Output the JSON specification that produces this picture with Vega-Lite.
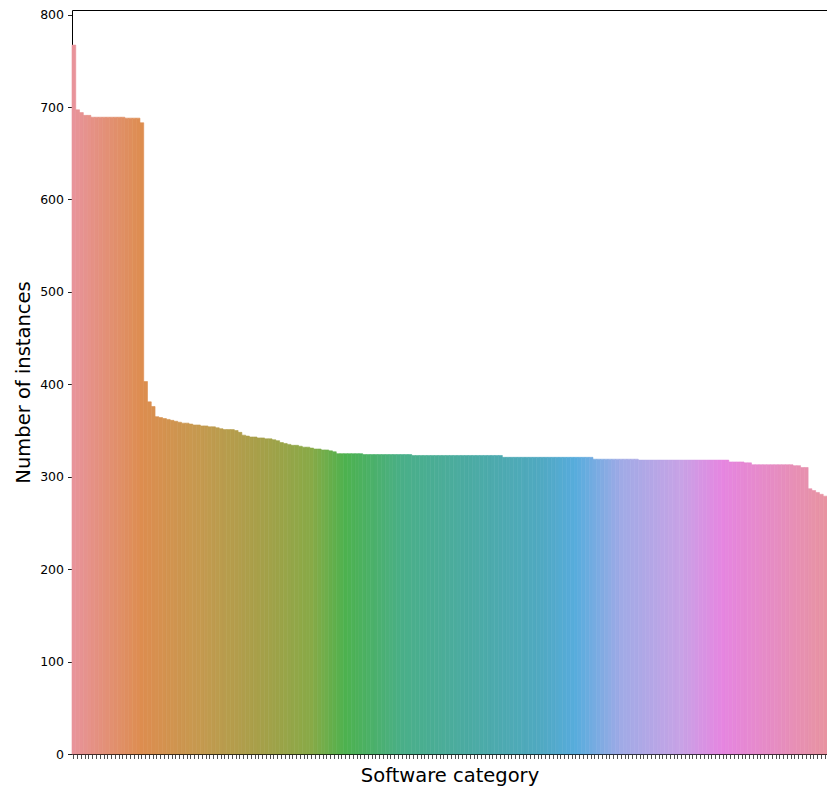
{
  "$schema": "https://vega.github.io/schema/vega-lite/v6.json",
  "width": 755,
  "height": 744,
  "autosize": {"type": "none"},
  "padding": {"left": 72, "top": 10, "right": 0, "bottom": 32},
  "background": "white",
  "config": {
    "view": {"stroke": null},
    "axis": {
      "grid": false,
      "domainColor": "#000000",
      "domainWidth": 1,
      "tickColor": "#222222",
      "labelColor": "#000000",
      "titleColor": "#000000",
      "labelFont": "DejaVu Sans",
      "titleFont": "DejaVu Sans",
      "titleFontWeight": "normal"
    }
  },
  "data": {"values": [
    {"category":"c000","index":0,"instances":767},
    {"category":"c001","index":1,"instances":697},
    {"category":"c002","index":2,"instances":694},
    {"category":"c003","index":3,"instances":691},
    {"category":"c004","index":4,"instances":691},
    {"category":"c005","index":5,"instances":689},
    {"category":"c006","index":6,"instances":689},
    {"category":"c007","index":7,"instances":689},
    {"category":"c008","index":8,"instances":689},
    {"category":"c009","index":9,"instances":689},
    {"category":"c010","index":10,"instances":689},
    {"category":"c011","index":11,"instances":689},
    {"category":"c012","index":12,"instances":689},
    {"category":"c013","index":13,"instances":689},
    {"category":"c014","index":14,"instances":688},
    {"category":"c015","index":15,"instances":688},
    {"category":"c016","index":16,"instances":688},
    {"category":"c017","index":17,"instances":688},
    {"category":"c018","index":18,"instances":683},
    {"category":"c019","index":19,"instances":403},
    {"category":"c020","index":20,"instances":381},
    {"category":"c021","index":21,"instances":376},
    {"category":"c022","index":22,"instances":365},
    {"category":"c023","index":23,"instances":364},
    {"category":"c024","index":24,"instances":363},
    {"category":"c025","index":25,"instances":362},
    {"category":"c026","index":26,"instances":361},
    {"category":"c027","index":27,"instances":360},
    {"category":"c028","index":28,"instances":359},
    {"category":"c029","index":29,"instances":358},
    {"category":"c030","index":30,"instances":358},
    {"category":"c031","index":31,"instances":357},
    {"category":"c032","index":32,"instances":356},
    {"category":"c033","index":33,"instances":356},
    {"category":"c034","index":34,"instances":355},
    {"category":"c035","index":35,"instances":355},
    {"category":"c036","index":36,"instances":354},
    {"category":"c037","index":37,"instances":354},
    {"category":"c038","index":38,"instances":353},
    {"category":"c039","index":39,"instances":352},
    {"category":"c040","index":40,"instances":351},
    {"category":"c041","index":41,"instances":351},
    {"category":"c042","index":42,"instances":351},
    {"category":"c043","index":43,"instances":350},
    {"category":"c044","index":44,"instances":348},
    {"category":"c045","index":45,"instances":345},
    {"category":"c046","index":46,"instances":344},
    {"category":"c047","index":47,"instances":343},
    {"category":"c048","index":48,"instances":343},
    {"category":"c049","index":49,"instances":342},
    {"category":"c050","index":50,"instances":342},
    {"category":"c051","index":51,"instances":341},
    {"category":"c052","index":52,"instances":341},
    {"category":"c053","index":53,"instances":340},
    {"category":"c054","index":54,"instances":339},
    {"category":"c055","index":55,"instances":337},
    {"category":"c056","index":56,"instances":336},
    {"category":"c057","index":57,"instances":335},
    {"category":"c058","index":58,"instances":334},
    {"category":"c059","index":59,"instances":334},
    {"category":"c060","index":60,"instances":333},
    {"category":"c061","index":61,"instances":332},
    {"category":"c062","index":62,"instances":332},
    {"category":"c063","index":63,"instances":331},
    {"category":"c064","index":64,"instances":330},
    {"category":"c065","index":65,"instances":330},
    {"category":"c066","index":66,"instances":329},
    {"category":"c067","index":67,"instances":329},
    {"category":"c068","index":68,"instances":328},
    {"category":"c069","index":69,"instances":327},
    {"category":"c070","index":70,"instances":325},
    {"category":"c071","index":71,"instances":325},
    {"category":"c072","index":72,"instances":325},
    {"category":"c073","index":73,"instances":325},
    {"category":"c074","index":74,"instances":325},
    {"category":"c075","index":75,"instances":325},
    {"category":"c076","index":76,"instances":325},
    {"category":"c077","index":77,"instances":324},
    {"category":"c078","index":78,"instances":324},
    {"category":"c079","index":79,"instances":324},
    {"category":"c080","index":80,"instances":324},
    {"category":"c081","index":81,"instances":324},
    {"category":"c082","index":82,"instances":324},
    {"category":"c083","index":83,"instances":324},
    {"category":"c084","index":84,"instances":324},
    {"category":"c085","index":85,"instances":324},
    {"category":"c086","index":86,"instances":324},
    {"category":"c087","index":87,"instances":324},
    {"category":"c088","index":88,"instances":324},
    {"category":"c089","index":89,"instances":324},
    {"category":"c090","index":90,"instances":323},
    {"category":"c091","index":91,"instances":323},
    {"category":"c092","index":92,"instances":323},
    {"category":"c093","index":93,"instances":323},
    {"category":"c094","index":94,"instances":323},
    {"category":"c095","index":95,"instances":323},
    {"category":"c096","index":96,"instances":323},
    {"category":"c097","index":97,"instances":323},
    {"category":"c098","index":98,"instances":323},
    {"category":"c099","index":99,"instances":323},
    {"category":"c100","index":100,"instances":323},
    {"category":"c101","index":101,"instances":323},
    {"category":"c102","index":102,"instances":323},
    {"category":"c103","index":103,"instances":323},
    {"category":"c104","index":104,"instances":323},
    {"category":"c105","index":105,"instances":323},
    {"category":"c106","index":106,"instances":323},
    {"category":"c107","index":107,"instances":323},
    {"category":"c108","index":108,"instances":323},
    {"category":"c109","index":109,"instances":323},
    {"category":"c110","index":110,"instances":323},
    {"category":"c111","index":111,"instances":323},
    {"category":"c112","index":112,"instances":323},
    {"category":"c113","index":113,"instances":323},
    {"category":"c114","index":114,"instances":321},
    {"category":"c115","index":115,"instances":321},
    {"category":"c116","index":116,"instances":321},
    {"category":"c117","index":117,"instances":321},
    {"category":"c118","index":118,"instances":321},
    {"category":"c119","index":119,"instances":321},
    {"category":"c120","index":120,"instances":321},
    {"category":"c121","index":121,"instances":321},
    {"category":"c122","index":122,"instances":321},
    {"category":"c123","index":123,"instances":321},
    {"category":"c124","index":124,"instances":321},
    {"category":"c125","index":125,"instances":321},
    {"category":"c126","index":126,"instances":321},
    {"category":"c127","index":127,"instances":321},
    {"category":"c128","index":128,"instances":321},
    {"category":"c129","index":129,"instances":321},
    {"category":"c130","index":130,"instances":321},
    {"category":"c131","index":131,"instances":321},
    {"category":"c132","index":132,"instances":321},
    {"category":"c133","index":133,"instances":321},
    {"category":"c134","index":134,"instances":321},
    {"category":"c135","index":135,"instances":321},
    {"category":"c136","index":136,"instances":321},
    {"category":"c137","index":137,"instances":321},
    {"category":"c138","index":138,"instances":319},
    {"category":"c139","index":139,"instances":319},
    {"category":"c140","index":140,"instances":319},
    {"category":"c141","index":141,"instances":319},
    {"category":"c142","index":142,"instances":319},
    {"category":"c143","index":143,"instances":319},
    {"category":"c144","index":144,"instances":319},
    {"category":"c145","index":145,"instances":319},
    {"category":"c146","index":146,"instances":319},
    {"category":"c147","index":147,"instances":319},
    {"category":"c148","index":148,"instances":319},
    {"category":"c149","index":149,"instances":319},
    {"category":"c150","index":150,"instances":318},
    {"category":"c151","index":151,"instances":318},
    {"category":"c152","index":152,"instances":318},
    {"category":"c153","index":153,"instances":318},
    {"category":"c154","index":154,"instances":318},
    {"category":"c155","index":155,"instances":318},
    {"category":"c156","index":156,"instances":318},
    {"category":"c157","index":157,"instances":318},
    {"category":"c158","index":158,"instances":318},
    {"category":"c159","index":159,"instances":318},
    {"category":"c160","index":160,"instances":318},
    {"category":"c161","index":161,"instances":318},
    {"category":"c162","index":162,"instances":318},
    {"category":"c163","index":163,"instances":318},
    {"category":"c164","index":164,"instances":318},
    {"category":"c165","index":165,"instances":318},
    {"category":"c166","index":166,"instances":318},
    {"category":"c167","index":167,"instances":318},
    {"category":"c168","index":168,"instances":318},
    {"category":"c169","index":169,"instances":318},
    {"category":"c170","index":170,"instances":318},
    {"category":"c171","index":171,"instances":318},
    {"category":"c172","index":172,"instances":318},
    {"category":"c173","index":173,"instances":318},
    {"category":"c174","index":174,"instances":316},
    {"category":"c175","index":175,"instances":316},
    {"category":"c176","index":176,"instances":316},
    {"category":"c177","index":177,"instances":316},
    {"category":"c178","index":178,"instances":315},
    {"category":"c179","index":179,"instances":315},
    {"category":"c180","index":180,"instances":313},
    {"category":"c181","index":181,"instances":313},
    {"category":"c182","index":182,"instances":313},
    {"category":"c183","index":183,"instances":313},
    {"category":"c184","index":184,"instances":313},
    {"category":"c185","index":185,"instances":313},
    {"category":"c186","index":186,"instances":313},
    {"category":"c187","index":187,"instances":313},
    {"category":"c188","index":188,"instances":313},
    {"category":"c189","index":189,"instances":313},
    {"category":"c190","index":190,"instances":313},
    {"category":"c191","index":191,"instances":312},
    {"category":"c192","index":192,"instances":312},
    {"category":"c193","index":193,"instances":310},
    {"category":"c194","index":194,"instances":310},
    {"category":"c195","index":195,"instances":287},
    {"category":"c196","index":196,"instances":285},
    {"category":"c197","index":197,"instances":283},
    {"category":"c198","index":198,"instances":281},
    {"category":"c199","index":199,"instances":279}
  ]},
  "layer": [
    {
      "mark": {"type": "bar", "strokeWidth": 0.6},
      "encoding": {
        "x": {
          "field": "category", "type": "nominal", "sort": null,
          "scale": {"paddingInner": 0, "paddingOuter": 0},
          "axis": {"labels": false, "ticks": true, "tickSize": 4.5, "tickWidth": 0.8, "title": "Software category", "titleFontSize": 19.5, "titlePadding": 8, "orient": "bottom"}
        },
        "y": {
          "field": "instances", "type": "quantitative",
          "scale": {"domain": [0, 805], "nice": false, "zero": true},
          "axis": {"values": [0,100,200,300,400,500,600,700,800], "tickSize": 4.5, "tickWidth": 1, "labelFontSize": 12.5, "labelPadding": 4, "title": "Number of instances", "titleFontSize": 19.5, "titlePadding": 6}
        },
        "color": {
          "field": "index", "type": "quantitative", "legend": null,
          "scale": {"type": "linear",
            "domain": [0, 18, 34, 50, 63, 72, 87, 105, 124, 133, 145, 161, 172, 185, 200],
            "range": ["#E8939A", "#DD8D4F", "#C49A4F", "#A5A049", "#88AA47", "#4DB24F", "#4AAF88", "#4BABA3", "#50A9C2", "#58ACDD", "#A0AAE6", "#C8A2E6", "#E685E0", "#E68CC4", "#E8949F"],
            "interpolate": "rgb"}
        },
        "stroke": {
          "field": "index", "type": "quantitative", "legend": null,
          "scale": {"type": "linear",
            "domain": [0, 18, 34, 50, 63, 72, 87, 105, 124, 133, 145, 161, 172, 185, 200],
            "range": ["#E8939A", "#DD8D4F", "#C49A4F", "#A5A049", "#88AA47", "#4DB24F", "#4AAF88", "#4BABA3", "#50A9C2", "#58ACDD", "#A0AAE6", "#C8A2E6", "#E685E0", "#E68CC4", "#E8949F"],
            "interpolate": "rgb"}
        }
      }
    },
    {
      "mark": {"type": "point", "opacity": 0},
      "encoding": {
        "x": {
          "field": "category", "type": "nominal", "sort": null,
          "axis": {"orient": "top", "labels": false, "ticks": false, "title": null, "domain": true}
        },
        "y": {"field": "instances", "type": "quantitative"}
      }
    }
  ],
  "resolve": {"axis": {"x": "independent"}}
}
